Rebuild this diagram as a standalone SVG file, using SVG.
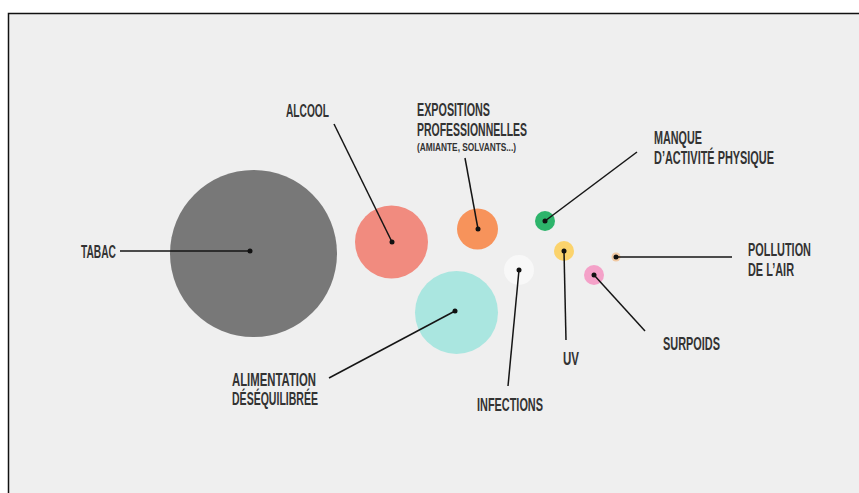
<svg xmlns="http://www.w3.org/2000/svg" width="859" height="493" viewBox="0 0 859 493">
<style>
text{font-family:"Liberation Sans",Arial,sans-serif;font-size:18px;font-weight:bold;fill:#333}
.s{font-size:11px}
.c line{stroke:#151515;stroke-width:1.5}
.dot{fill:#111}
</style>
<rect width="859" height="493" fill="#fff"/>
<rect x="8" y="13" width="851" height="480" fill="#efefef"/>
<path d="M8.5 493V13.5H859" fill="none" stroke="#111" stroke-width="1.5"/>
<g id="tabac"><circle cx="253.5" cy="253.5" r="83.5" fill="#787878"/><text x="81" y="258" textLength="35" lengthAdjust="spacingAndGlyphs">TABAC</text></g>
<g id="alcool"><circle cx="391.5" cy="242" r="36.5" fill="#f18b7f"/><text x="286" y="117" textLength="43" lengthAdjust="spacingAndGlyphs">ALCOOL</text></g>
<g id="expositions"><circle cx="477.5" cy="229" r="20.5" fill="#f7935b"/>
<text x="417" y="116" textLength="73" lengthAdjust="spacingAndGlyphs">EXPOSITIONS</text>
<text x="417" y="136" textLength="110" lengthAdjust="spacingAndGlyphs">PROFESSIONNELLES</text>
<text class="s" x="417" y="151" textLength="99" lengthAdjust="spacingAndGlyphs">(AMIANTE, SOLVANTS...)</text></g>
<g id="manque"><circle cx="545" cy="221" r="10" fill="#2db46b"/>
<text x="654" y="144" textLength="48" lengthAdjust="spacingAndGlyphs">MANQUE</text>
<text x="654" y="164" textLength="120" lengthAdjust="spacingAndGlyphs">D’ACTIVITÉ PHYSIQUE</text></g>
<g id="uv"><circle cx="564" cy="251" r="10" fill="#fbd36c"/><text x="563" y="365" textLength="16" lengthAdjust="spacingAndGlyphs">UV</text></g>
<g id="pollution"><circle cx="616" cy="257" r="4.5" fill="#f1c9a3"/>
<text x="748" y="256" textLength="63" lengthAdjust="spacingAndGlyphs">POLLUTION</text>
<text x="748" y="276" textLength="46" lengthAdjust="spacingAndGlyphs">DE L’AIR</text></g>
<g id="surpoids"><circle cx="594" cy="275" r="10" fill="#f4a1c8"/><text x="663" y="350" textLength="57" lengthAdjust="spacingAndGlyphs">SURPOIDS</text></g>
<g id="infections"><circle cx="519" cy="270" r="15" fill="#f8f8f8"/><text x="477" y="411" textLength="66" lengthAdjust="spacingAndGlyphs">INFECTIONS</text></g>
<g id="alimentation"><circle cx="456.5" cy="312.5" r="41.5" fill="#aae6e0"/>
<text x="232" y="386" textLength="84" lengthAdjust="spacingAndGlyphs">ALIMENTATION</text>
<text x="232" y="405" textLength="86" lengthAdjust="spacingAndGlyphs">DÉSÉQUILIBRÉE</text></g>
<g id="connectors" class="c">
<line x1="120" y1="251" x2="250" y2="251"/>
<line x1="334" y1="124" x2="392" y2="242"/>
<line x1="465" y1="158" x2="478" y2="229"/>
<line x1="637" y1="152" x2="545" y2="221"/>
<line x1="732" y1="257" x2="616" y2="257"/>
<line x1="645" y1="331" x2="594" y2="275"/>
<line x1="566" y1="340" x2="564" y2="251"/>
<line x1="508" y1="386" x2="519" y2="270"/>
<line x1="329" y1="378" x2="455" y2="311"/>
<circle class="dot" cx="250" cy="251" r="2.5"/>
<circle class="dot" cx="392" cy="242" r="2.5"/>
<circle class="dot" cx="478" cy="229" r="2.5"/>
<circle class="dot" cx="545" cy="221" r="2.5"/>
<circle class="dot" cx="616" cy="257" r="2.5"/>
<circle class="dot" cx="594" cy="275" r="2.5"/>
<circle class="dot" cx="564" cy="251" r="2.5"/>
<circle class="dot" cx="519" cy="270" r="2.5"/>
<circle class="dot" cx="455" cy="311" r="2.5"/>
</g>
</svg>
